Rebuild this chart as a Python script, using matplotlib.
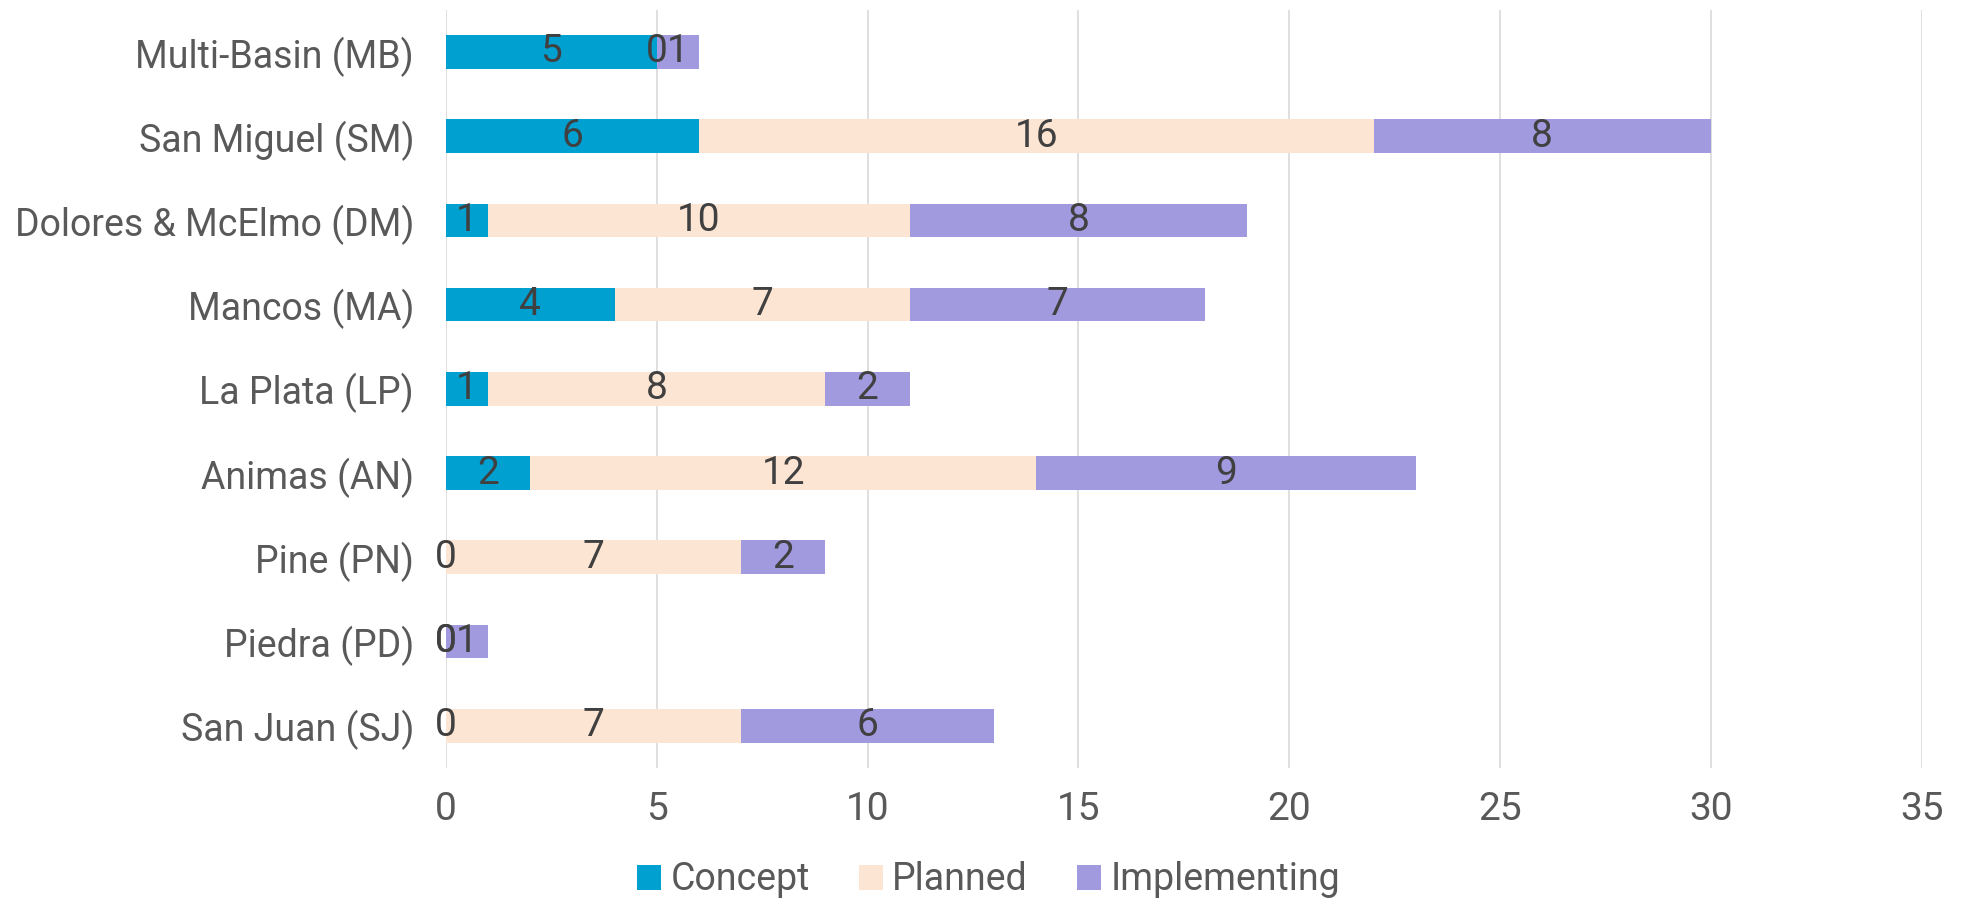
import matplotlib
matplotlib.use("Agg")
import matplotlib.pyplot as plt
import numpy as np

plt.rcParams['font.family'] = ['Roboto', 'DejaVu Sans']

# data, bottom to top
basins = ["San Juan (SJ)", "Piedra (PD)", "Pine (PN)", "Animas (AN)", "La Plata (LP)",
          "Mancos (MA)", "Dolores & McElmo (DM)", "San Miguel (SM)", "Multi-Basin (MB)"]
concept = [0, 0, 0, 2, 1, 4, 1, 6, 5]
planned = [7, 0, 7, 12, 8, 7, 10, 16, 0]
implementing = [6, 1, 2, 9, 2, 7, 8, 8, 1]

series = [("Concept", concept, "#00A0D1"),
          ("Planned", planned, "#FDE5D3"),
          ("Implementing", implementing, "#A29ADF")]

fig = plt.figure(figsize=(19.69, 8.98), dpi=100)
ax = fig.add_axes([0.2265, 0.145, 0.7495, 0.844])

y = np.arange(len(basins))
left = np.zeros(len(basins))
for name, vals, col in series:
    vals = np.array(vals, dtype=float)
    ax.barh(y, vals, left=left, height=0.4, color=col, label=name, zorder=2)
    for yi, (l, v) in enumerate(zip(left, vals)):
        ax.text(l + v / 2, yi, f"{int(v)}", ha="center", va="center",
                fontsize=28, color="#404040", zorder=3)
    left += vals

ax.set_xlim(0, 35)
ax.set_ylim(-0.5, len(basins) - 0.5)
ax.set_xticks(range(0, 36, 5))
ax.set_yticks(y)
ax.set_yticklabels(basins)
ax.grid(axis="x", color="#D9D9D9", linewidth=1.2, zorder=0)
ax.set_axisbelow(True)
for s in ax.spines.values():
    s.set_visible(False)
ax.tick_params(axis="both", length=0, labelsize=28, colors="#595959")
ax.tick_params(axis="y", labelsize=27, pad=23)
ax.tick_params(axis="x", pad=17)

fig.legend(loc="lower center", bbox_to_anchor=(0.502, -0.038), ncol=3, frameon=False,
           fontsize=27, handlelength=0.65, handleheight=0.65, handletextpad=0.25,
           columnspacing=1.3, labelcolor="#595959")

fig.savefig("out.png", dpi=100)
